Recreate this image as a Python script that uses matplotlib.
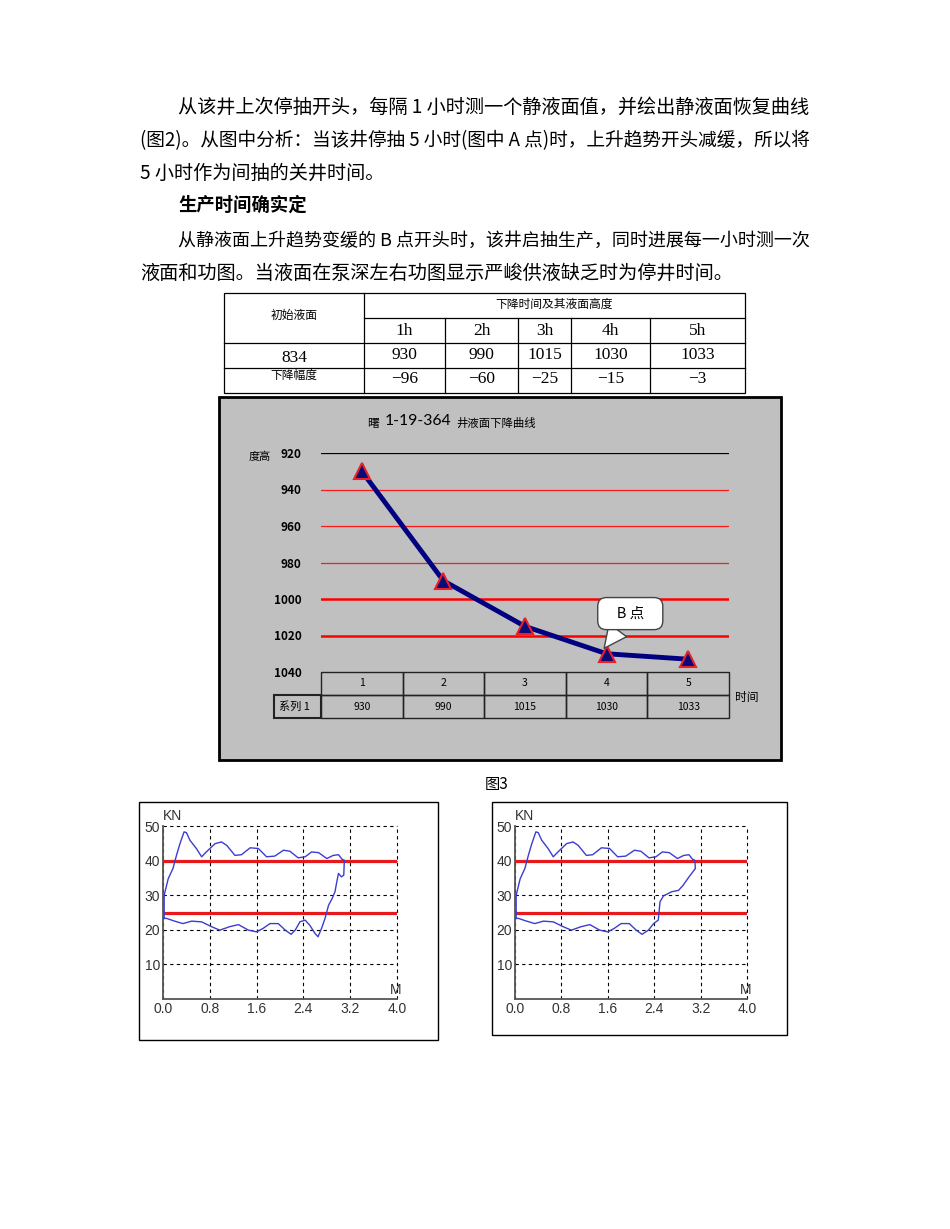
import matplotlib
matplotlib.use('Agg')
import matplotlib.pyplot as plt
from matplotlib.patches import Rectangle

plt.rcParams['font.family'] = ['Noto Sans CJK SC', 'DejaVu Sans']

# 表格 / 液面下降曲线数据
init_level = 834
hours = ['1h', '2h', '3h', '4h', '5h']
cats = [1, 2, 3, 4, 5]
depths = [930, 990, 1015, 1030, 1033]
drops = [-96, -60, -25, -15, -3]
y_ticks_main = [920, 940, 960, 980, 1000, 1020, 1040]

# 功图数据 (上冲程两图相同)
up_x = [0.02, 0.02, 0.09, 0.17, 0.23, 0.29, 0.36, 0.40, 0.46, 0.57, 0.66, 0.74, 0.89, 1.00,
        1.09, 1.23, 1.34, 1.49, 1.63, 1.77, 1.91, 2.06, 2.17, 2.31, 2.43, 2.54, 2.66, 2.80,
        2.91, 3.00, 3.06, 3.10]
up_y = [23.3, 30.0, 34.8, 37.7, 41.5, 44.9, 48.3, 48.1, 45.9, 43.5, 41.1, 42.5, 44.9, 45.4,
        44.4, 41.5, 41.7, 43.7, 43.5, 41.1, 41.3, 43.0, 42.7, 40.8, 41.1, 42.5, 42.3, 40.6,
        41.5, 41.7, 40.4, 40.1]
down_l_x = [3.10, 3.09, 3.05, 3.00, 2.97, 2.94, 2.89, 2.83, 2.77, 2.71, 2.65, 2.60, 2.51, 2.43,
            2.34, 2.26, 2.19, 2.09, 1.97, 1.83, 1.71, 1.60, 1.46, 1.29, 1.14, 0.97, 0.83, 0.66,
            0.49, 0.34, 0.20, 0.06, 0.02]
down_l_y = [40.1, 35.8, 35.3, 36.3, 33.8, 31.0, 29.0, 27.1, 23.3, 20.4, 18.0, 18.9, 21.3, 22.8,
            22.3, 19.9, 18.7, 19.9, 21.8, 21.8, 20.4, 19.4, 19.9, 21.5, 20.9, 19.9, 20.9, 22.3,
            22.5, 21.8, 22.5, 23.3, 23.3]
down_r_x = [3.10, 3.11, 3.00, 2.90, 2.82, 2.70, 2.56, 2.50, 2.49, 2.47, 2.39, 2.30, 2.19, 2.09,
            1.97, 1.83, 1.71, 1.60, 1.46, 1.29, 1.14, 0.97, 0.83, 0.66, 0.49, 0.34, 0.20, 0.06,
            0.02]
down_r_y = [40.1, 37.7, 35.3, 32.9, 31.4, 31.0, 29.8, 28.1, 26.2, 22.8, 21.8, 19.9, 18.7, 19.9,
            21.8, 21.8, 20.4, 19.4, 19.9, 21.5, 20.9, 19.9, 20.9, 22.3, 22.5, 21.8, 22.5, 23.3,
            23.3]
dyn_xticks = [0.0, 0.8, 1.6, 2.4, 3.2, 4.0]
dyn_yticks = [10, 20, 30, 40, 50]
dyn_red = [40, 25]

W, H = 950, 1229
fig = plt.figure(figsize=(W / 100, H / 100), dpi=100)
renderer = fig.canvas.get_renderer()


def add_ax(x0, y0, x1, y1):
    return fig.add_axes([x0 / W, 1 - y1 / H, (x1 - x0) / W, (y1 - y0) / H])


page = add_ax(0, 0, W, H)
page.set_xlim(0, W)
page.set_ylim(H, 0)
page.axis('off')

# 正文 (两端对齐的行按宽度调整字号)
para = 13.8
lines = [
    (178, 107, '从该井上次停抽开头，每隔 1 小时测一个静液面值，并绘出静液面恢复曲线', True),
    (140, 141, '(图2)。从图中分析：当该井停抽 5 小时(图中 A 点)时，上升趋势开头减缓，所以将', True),
    (140, 173, '5 小时作为间抽的关井时间。', False),
    (178, 241, '从静液面上升趋势变缓的 B 点开头时，该井启抽生产，同时进展每一小时测一次', True),
    (140, 273, '液面和功图。当液面在泵深左右功图显示严峻供液缺乏时为停井时间。', False),
]
for x0, y0, s, just in lines:
    t = page.text(x0, y0, s, fontsize=para, va='center')
    if just:
        w = t.get_window_extent(renderer).width
        t.set_fontsize(para * (810 - x0) / w)
page.text(178, 205, '生产时间确实定', fontsize=13.2, va='center', fontweight='bold')

# 表格
col_x = [224, 364, 445, 518, 571, 650, 745]
row_y = [293, 318, 343, 368, 393]
lw_t = 0.9
page.add_patch(Rectangle((col_x[0], row_y[0]), col_x[-1] - col_x[0], row_y[-1] - row_y[0],
                         fill=False, lw=lw_t, ec='black'))
page.plot([col_x[1], col_x[1]], [row_y[0], row_y[-1]], color='black', lw=lw_t)
for cx in col_x[2:-1]:
    page.plot([cx, cx], [row_y[1], row_y[-1]], color='black', lw=lw_t)
page.plot([col_x[1], col_x[-1]], [row_y[1], row_y[1]], color='black', lw=lw_t)
for ry in row_y[2:4]:
    page.plot([col_x[0], col_x[-1]], [ry, ry], color='black', lw=lw_t)
page.text((col_x[0] + col_x[1]) / 2, 315, '初始液面', fontsize=8.5, ha='center', va='center')
page.text((col_x[1] + col_x[-1]) / 2, 304, '下降时间及其液面高度', fontsize=8.5, ha='center', va='center')
serif = ['Liberation Serif', 'DejaVu Serif']
page.text((col_x[0] + col_x[1]) / 2, 358, str(init_level), fontsize=12.5, ha='center', va='center', family=serif)
page.text((col_x[0] + col_x[1]) / 2, 375, '下降幅度', fontsize=8.5, ha='center', va='center')
for i in range(len(hours)):
    cx = (col_x[i + 1] + col_x[i + 2]) / 2
    page.text(cx, 331, hours[i], fontsize=12.5, ha='center', va='center', family=serif)
    page.text(cx, 355, str(depths[i]), fontsize=12.5, ha='center', va='center', family=serif)
    page.text(cx, 379, str(drops[i]).replace('-', '\u2212'), fontsize=12.5, ha='center', va='center', family=serif)

# 灰色图表背景
page.add_patch(Rectangle((219, 397), 562, 363, fc='#c0c0c0', ec='black', lw=2))
page.text(367, 423, '曙', fontsize=8.5, va='center')
page.text(385, 421, '1-19-364', fontsize=11.3, va='center', family=['Lato', 'DejaVu Sans'])
page.text(456, 423, '井液面下降曲线', fontsize=8.2, va='center')
page.text(249, 457, '度高', fontsize=8, va='center')
page.text(735, 698, '时间', fontsize=8.5, va='center')

ax = add_ax(321, 453, 729, 672)
ax.patch.set_alpha(0)
ax.set_xlim(0.5, 5.5)
ax.set_ylim(1040, 920)
for s in ax.spines.values():
    s.set_visible(False)
ax.set_xticks([])
ax.set_yticks(y_ticks_main)
ax.set_yticklabels([str(v) for v in y_ticks_main], fontweight='bold', fontsize=8.5)
ax.tick_params(axis='y', length=0, pad=14)
for lv in y_ticks_main[:-1]:
    if lv == 920:
        ax.axhline(lv, color='black', lw=0.9)
    elif lv >= 1000:
        ax.axhline(lv, color='#ff0000', lw=1.8)
    else:
        ax.axhline(lv, color='#ff1a1a', lw=0.9)
ax.plot(cats, depths, color='#000080', lw=3.5, marker='^', ms=11, mfc='#0a0a78', mec='#e8202a',
        mew=1.5, zorder=5, clip_on=False)

th = 46 / 219
tbl = ax.table(cellText=[[str(v) for v in depths]], colLabels=[str(c) for c in cats],
               cellLoc='center', bbox=[0, -th, 1, th])
tbl.auto_set_font_size(False)
tbl.set_fontsize(7.5)
for cell in tbl.get_celld().values():
    cell.set_facecolor('none')
    cell.set_edgecolor('#222222')
    cell.set_linewidth(1)
lw_frac = 47 / 408
ax.add_patch(Rectangle((-lw_frac, -th), lw_frac, th / 2, transform=ax.transAxes, fill=False,
                       lw=1.5, ec='#222222', clip_on=False))
ax.text(-lw_frac + 0.012, -th * 0.75, '系列 1', transform=ax.transAxes, fontsize=8, va='center')

ax.annotate('   B 点   ', xy=(3.97, 1027), xytext=(4.29, 1008), ha='center', va='center', fontsize=10.5,
            bbox=dict(boxstyle='round,pad=0.62,rounding_size=0.6', fc='white', ec='#444444', lw=1),
            arrowprops=dict(arrowstyle='wedge,tail_width=1.5,shrink_factor=0.5', fc='white',
                            ec='#444444', lw=1, shrinkA=0, shrinkB=0),
            zorder=6)

page.text(497, 785, '图3', fontsize=11, ha='center', va='center')

# 功图
page.add_patch(Rectangle((139, 802), 299, 238, fill=False, ec='black', lw=1))
page.add_patch(Rectangle((492, 802), 295, 233, fill=False, ec='black', lw=1))


def dyn(box, xs, ys):
    a = add_ax(*box)
    a.patch.set_alpha(0)
    a.set_xlim(0, 4)
    a.set_ylim(0, 50)
    a.set_xticks(dyn_xticks)
    a.set_xticklabels([f'{v:.1f}' for v in dyn_xticks], family=['Liberation Sans'])
    a.set_yticks(dyn_yticks)
    a.set_yticklabels([str(v) for v in dyn_yticks], family=['Liberation Sans'])
    a.grid(True, ls=(0, (3, 3)), color='black', lw=0.8)
    for gl in a.get_xgridlines() + a.get_ygridlines():
        gl.set_clip_on(False)
    a.spines['top'].set_visible(False)
    a.spines['right'].set_visible(False)
    for k in ('left', 'bottom'):
        a.spines[k].set_color('#555555')
        a.spines[k].set_linewidth(1.3)
    a.tick_params(length=0, pad=2, labelsize=10, labelcolor='#333333')
    for lv in dyn_red:
        a.axhline(lv, color='#e8191a', lw=2.3)
    a.plot(xs, ys, color='#3c3cd2', lw=1)
    a.text(0.0, 51, 'KN', fontsize=10, family=['Liberation Sans'], color='#333333', va='bottom')
    a.text(3.87, 0.5, 'M', fontsize=10, family=['Liberation Sans'], color='#333333', va='bottom')
    return a


dyn((163, 826, 397, 999), up_x + down_l_x, up_y + down_l_y)
dyn((515, 826, 747, 999), up_x + down_r_x, up_y + down_r_y)

fig.savefig('out.png', dpi=100)
